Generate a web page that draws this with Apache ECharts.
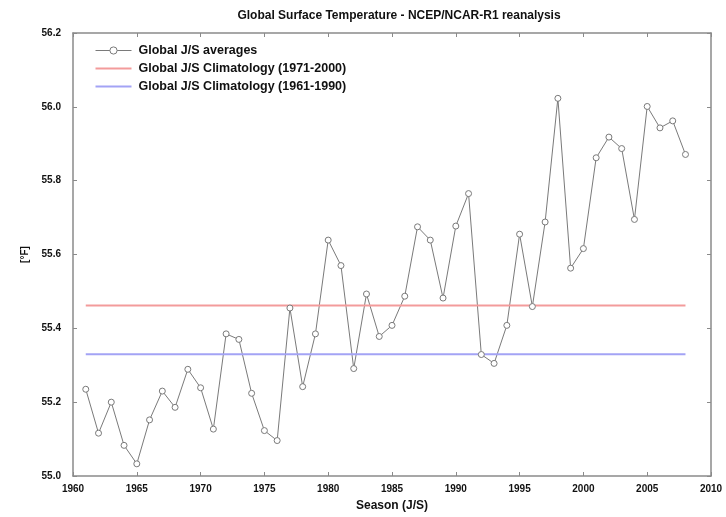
<!DOCTYPE html>
<html>
<head>
<meta charset="utf-8">
<script src="https://cdn.jsdelivr.net/npm/echarts@6/dist/echarts.min.js"></script>
<style>
  html, body { margin: 0; padding: 0; background: #fff; }
  #main { width: 726px; height: 517px; }
</style>
</head>
<body>
<div id="main"></div>
<script>
// season years and J/S global averages
var years = [1961, 1962, 1963, 1964, 1965, 1966, 1967, 1968, 1969, 1970,
             1971, 1972, 1973, 1974, 1975, 1976, 1977, 1978, 1979, 1980,
             1981, 1982, 1983, 1984, 1985, 1986, 1987, 1988, 1989, 1990,
             1991, 1992, 1993, 1994, 1995, 1996, 1997, 1998, 1999, 2000,
             2001, 2002, 2003, 2004, 2005, 2006, 2007, 2008];
var averages = [55.235, 55.116, 55.200, 55.083, 55.033, 55.152, 55.230, 55.186, 55.289, 55.239,
                55.127, 55.385, 55.370, 55.224, 55.123, 55.096, 55.455, 55.242, 55.385, 55.639,
                55.570, 55.291, 55.493, 55.378, 55.408, 55.487, 55.675, 55.639, 55.482, 55.677,
                55.765, 55.329, 55.305, 55.408, 55.655, 55.459, 55.688, 56.023, 55.563, 55.616,
                55.862, 55.918, 55.887, 55.695, 56.001, 55.943, 55.962, 55.871];
var clim7100 = 55.462;
var clim6190 = 55.330;
var yTicks = [55.0, 55.2, 55.4, 55.6, 55.8, 56.0, 56.2];
var xTicks = [1960, 1965, 1970, 1975, 1980, 1985, 1990, 1995, 2000, 2005, 2010];

var names = ['Global J/S averages', 'Global J/S Climatology (1971-2000)', 'Global J/S Climatology (1961-1990)'];

var avgData = [];
for (var i = 0; i < years.length; i++) {
    avgData.push([years[i], averages[i]]);
}
var firstYear = years[0], lastYear = years[years.length - 1];

var axisCol = '#8a8a8a';
var lineIcon = 'path://M0,0 L36,0 L36,2 L0,2 Z';
var tickFont = { color: '#111', fontSize: 10, fontWeight: 'bold', fontFamily: 'Liberation Sans' };
var bigFont = { color: '#111', fontSize: 12, fontWeight: 'bold', fontFamily: 'Liberation Sans' };

var chart = echarts.init(document.getElementById('main'));
chart.setOption({
    animation: false,
    backgroundColor: '#fff',
    title: {
        text: 'Global Surface Temperature - NCEP/NCAR-R1 reanalysis',
        left: 394,
        textAlign: 'center',
        top: 5,
        textStyle: bigFont
    },
    legend: {
        orient: 'vertical',
        left: 90,
        top: 39,
        itemGap: 5,
        itemWidth: 36,
        itemHeight: 9,
        data: [
            { name: names[0], lineStyle: { width: 1 }, itemStyle: { borderWidth: 1 } },
            { name: names[1], icon: lineIcon },
            { name: names[2], icon: lineIcon }
        ],
        textStyle: { color: '#111', fontSize: 12.5, fontWeight: 'bold', fontFamily: 'Liberation Sans', padding: [0, 0, 0, 2] }
    },
    grid: { left: 73, right: 15, top: 33, bottom: 39 },
    xAxis: [{
        type: 'value',
        min: xTicks[0],
        max: xTicks[xTicks.length - 1],
        interval: 5,
        name: 'Season (J/S)',
        nameLocation: 'middle',
        nameGap: 24,
        nameTextStyle: bigFont,
        axisLine: { lineStyle: { color: axisCol, width: 1.5 } },
        axisTick: { inside: true, length: 4, lineStyle: { color: axisCol } },
        axisLabel: {
            color: '#111', fontSize: 10, fontWeight: 'bold', fontFamily: 'Liberation Sans', margin: 8,
            formatter: function (v) { return String(v); }
        },
        splitLine: { show: false }
    }, {
        type: 'value',
        position: 'top',
        min: xTicks[0],
        max: xTicks[xTicks.length - 1],
        interval: 5,
        axisLine: { lineStyle: { color: axisCol, width: 1.5 } },
        axisTick: { inside: true, length: 4, lineStyle: { color: axisCol } },
        axisLabel: { show: false },
        splitLine: { show: false }
    }],
    yAxis: [{
        type: 'value',
        min: yTicks[0],
        max: yTicks[yTicks.length - 1],
        interval: 0.2,
        name: '[°F]',
        nameLocation: 'middle',
        nameGap: 42,
        nameTextStyle: tickFont,
        axisLine: { show: true, lineStyle: { color: axisCol, width: 1.5 } },
        axisTick: { show: true, inside: true, length: 4, lineStyle: { color: axisCol } },
        axisLabel: {
            color: '#111', fontSize: 10, fontWeight: 'bold', fontFamily: 'Liberation Sans', margin: 12,
            formatter: function (v) { return v.toFixed(1); }
        },
        splitLine: { show: false }
    }, {
        type: 'value',
        position: 'right',
        min: yTicks[0],
        max: yTicks[yTicks.length - 1],
        interval: 0.2,
        axisLine: { show: true, lineStyle: { color: axisCol, width: 1.5 } },
        axisTick: { show: true, inside: true, length: 4, lineStyle: { color: axisCol } },
        axisLabel: { show: false },
        splitLine: { show: false }
    }],
    series: [
        {
            name: names[0],
            type: 'line',
            data: avgData,
            symbol: 'circle',
            symbolSize: 6,
            showAllSymbol: true,
            lineStyle: { color: '#7a7a7a', width: 1 },
            itemStyle: { color: '#fff', borderColor: '#7a7a7a', borderWidth: 1 },
            z: 3
        },
        {
            name: names[1],
            type: 'line',
            data: [[firstYear, clim7100], [lastYear, clim7100]],
            symbol: 'none',
            lineStyle: { color: '#f39b9b', width: 2 },
            itemStyle: { color: '#f39b9b' }
        },
        {
            name: names[2],
            type: 'line',
            data: [[firstYear, clim6190], [lastYear, clim6190]],
            symbol: 'none',
            lineStyle: { color: '#a3a3f5', width: 2 },
            itemStyle: { color: '#a3a3f5' }
        }
    ]
});
</script>
</body>
</html>
